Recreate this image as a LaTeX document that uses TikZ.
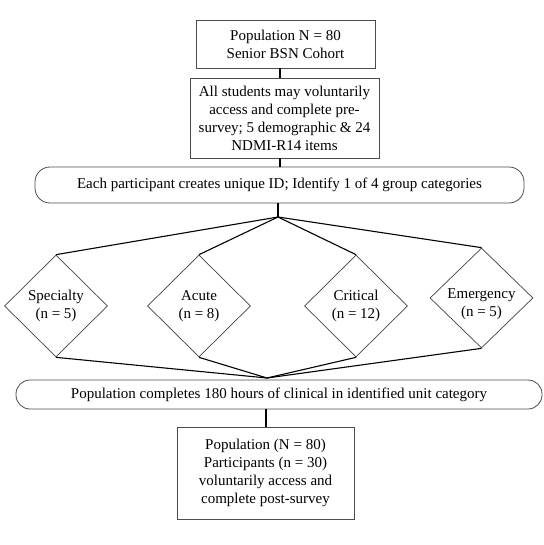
\documentclass[tikz,border=0pt]{standalone}
\usepackage{fontspec}
\setmainfont{Liberation Serif}
\usetikzlibrary{shapes.geometric}
\begin{document}
\begin{tikzpicture}[x=1pt,y=-1pt,
  txt/.style={font=\fontsize{15}{18}\selectfont, align=center, inner sep=0pt},
  boxnode/.style={txt, draw=black!70, line width=0.8pt, rectangle},
  barnode/.style={txt, draw=black!70, line width=0.8pt, rectangle, rounded corners=15pt},
  dia/.style={txt, draw=black!75, line width=0.7pt, diamond, minimum width=103pt, minimum height=102pt},
  conn/.style={draw=black, line width=1.1pt},
  ]
\useasboundingbox (0,0) rectangle (543,545);
\node[boxnode, minimum width=179pt, minimum height=48pt] (b1) at (285.5,44) {Population N = 80\\Senior BSN Cohort};
\node[boxnode, minimum width=189pt, minimum height=80pt] (b2) at (284.5,118) {All students may voluntarily\\access and complete pre-\\survey; 5 demographic \& 24\\NDMI-R14 items};
\node[barnode, minimum width=489pt, minimum height=36pt] (bar1) at (279.5,185) {Each participant creates unique ID; Identify 1 of 4 group categories};
\coordinate (top) at (280,0);
\coordinate (hub) at (278,217);
\node[dia] (d1) at (56,306) {Specialty\\(n = 5)};
\node[dia] (d2) at (199,306) {Acute\\(n = 8)};
\node[dia] (d3) at (356,306) {Critical\\(n = 12)};
\node[dia, minimum height=100pt, label={[txt, yshift=-6pt]center:{Emergency\\(n = 5)}}] (d4) at (481.5,298) {};
\coordinate (lhub) at (267,378);
\node[barnode, rounded corners=14pt, minimum width=526pt, minimum height=29pt] (bar2) at (279,394.5) {Population completes 180 hours of clinical in identified unit category};
\coordinate (mid) at (266,0);
\node[boxnode, minimum width=177pt, minimum height=92pt] (b3) at (265.5,473) {Population (N = 80)\\Participants (n = 30)\\voluntarily access and\\complete post-survey};
\draw[conn] (b1.south -| top) -- (b2.north -| top);
\draw[conn] (b2.south -| top) -- (bar1.north -| top);
\draw[conn] (bar1.south -| hub) -- (hub);
\foreach \d in {d1,d2,d3,d4} {
  \draw[conn] (hub) -- (\d.north);
  \draw[conn] (\d.south) -- (lhub);
}
\draw[conn] (bar2.south -| mid) -- (b3.north -| mid);
\end{tikzpicture}
\end{document}
